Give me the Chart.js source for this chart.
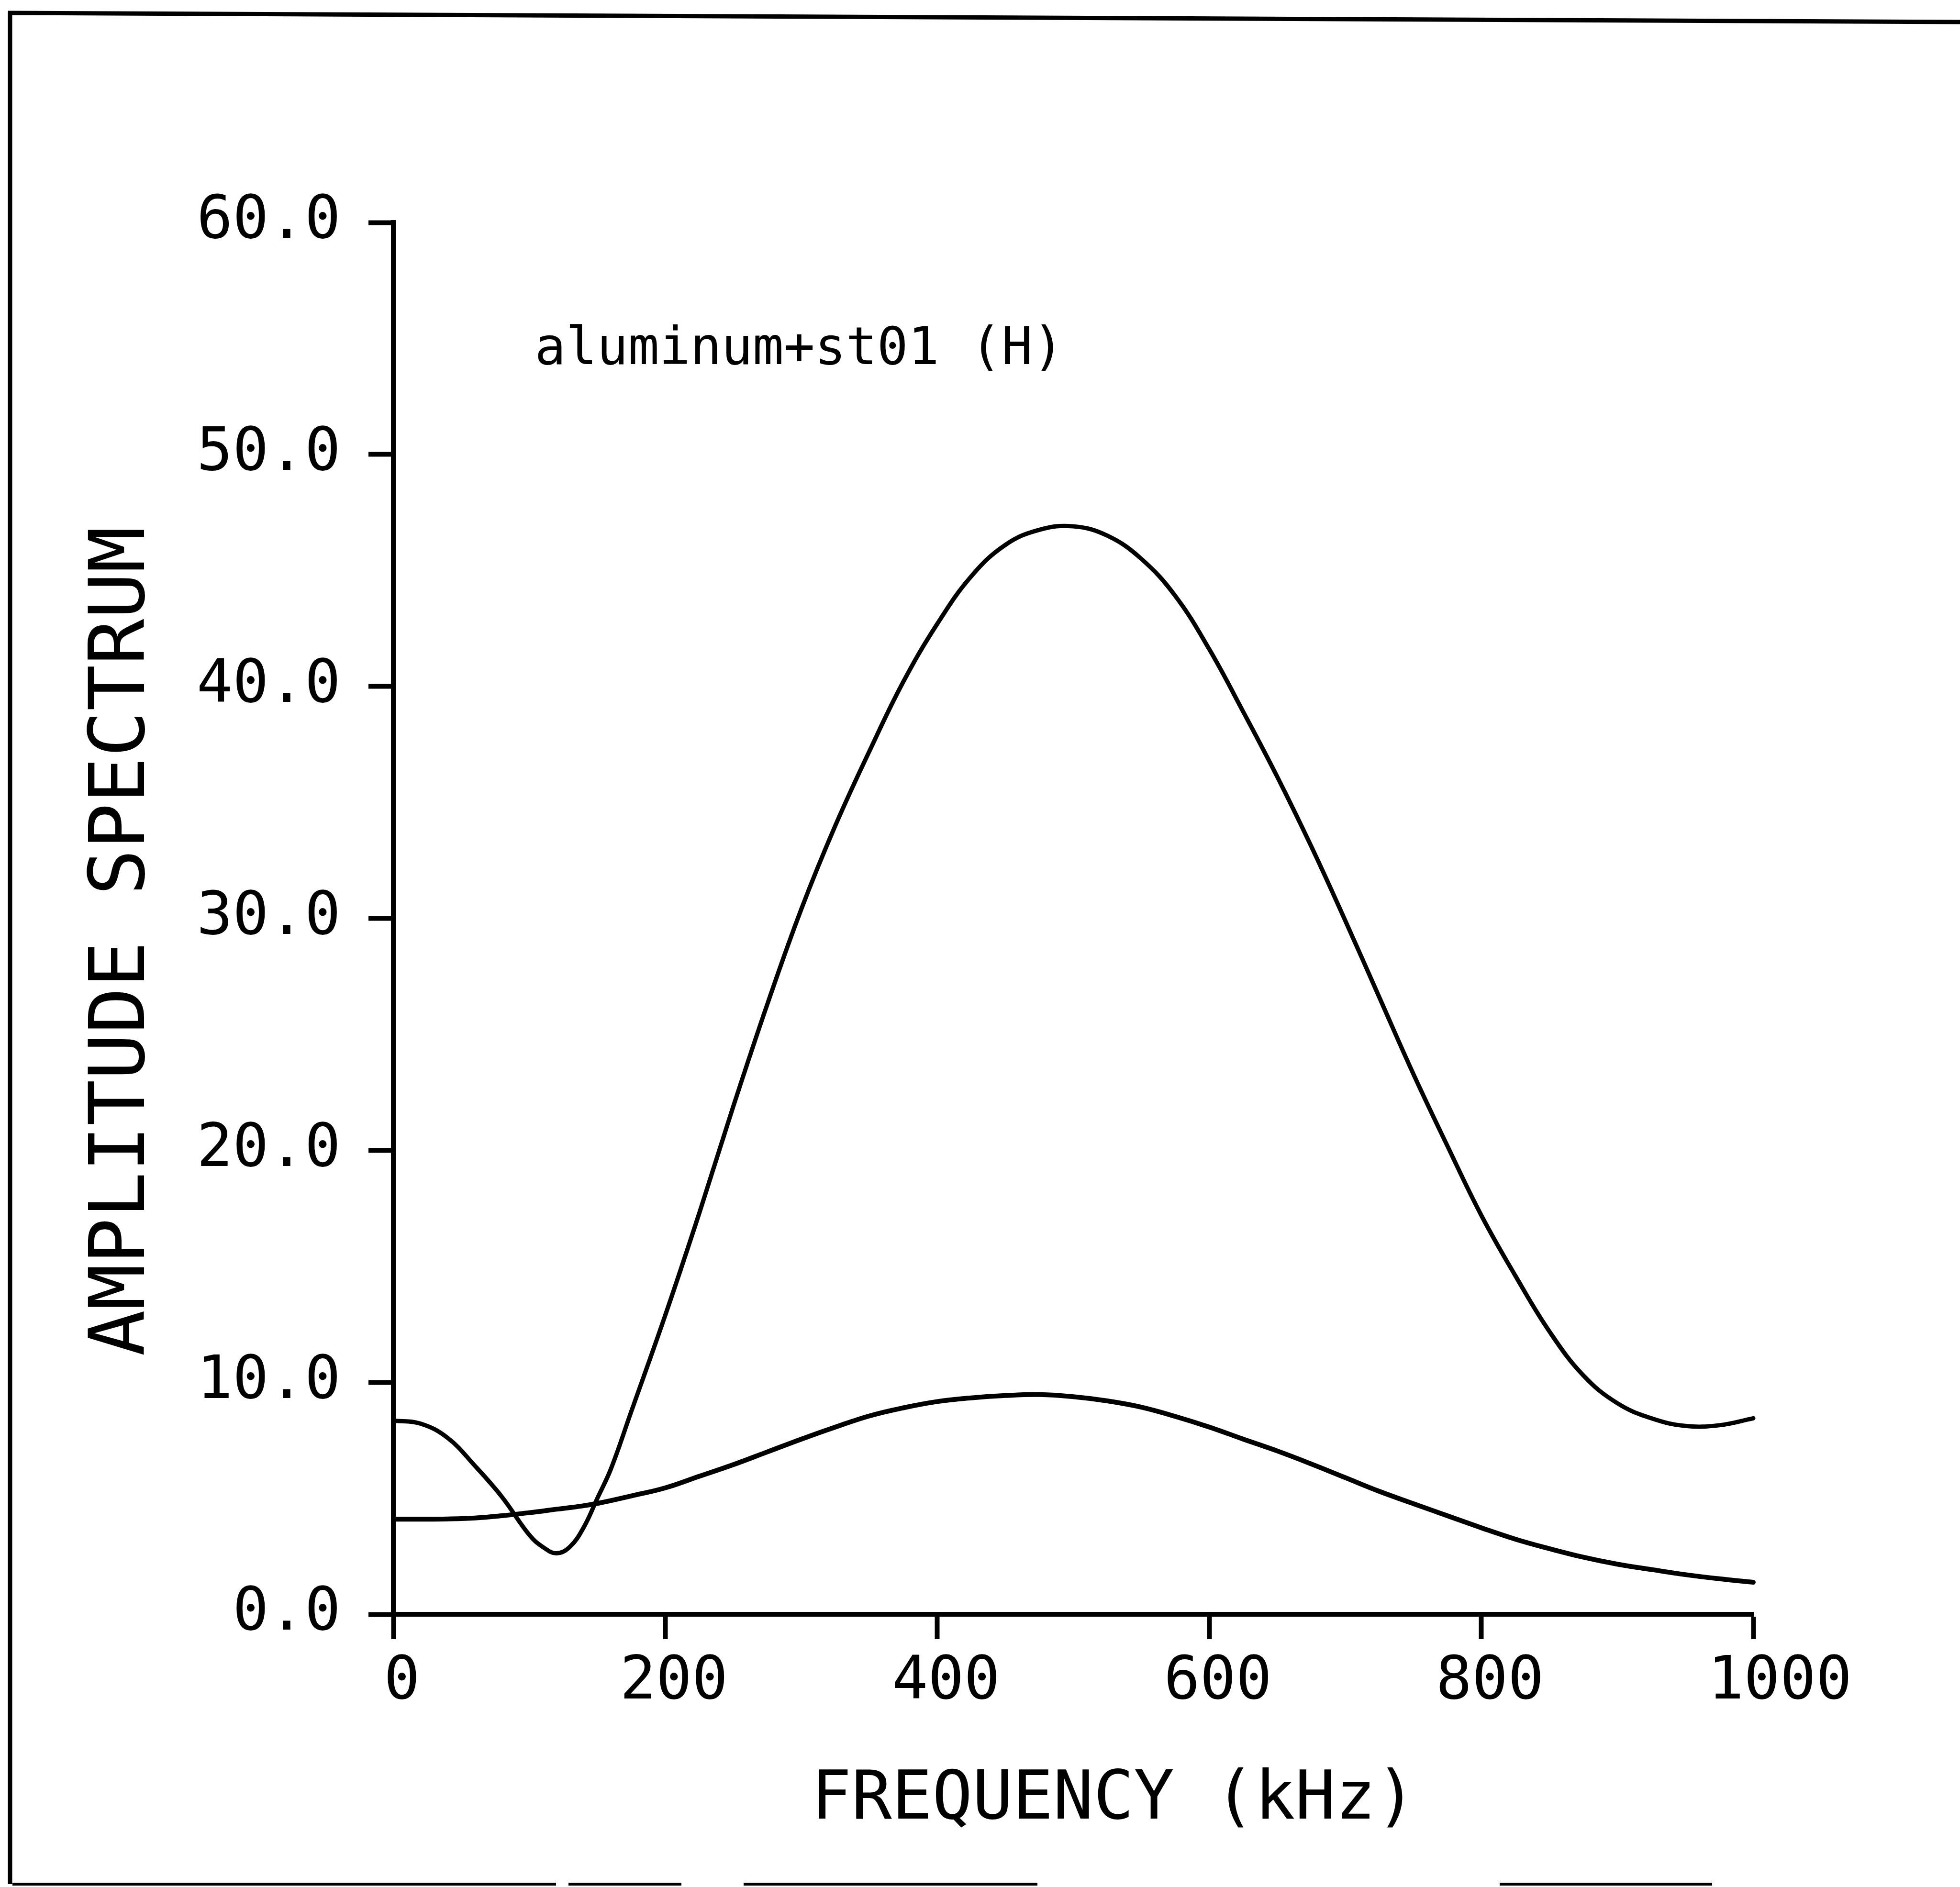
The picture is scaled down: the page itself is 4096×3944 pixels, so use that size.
<!DOCTYPE html>
<html>
<head>
<meta charset="utf-8">
<script src="https://cdn.jsdelivr.net/npm/chart.js@4.4.1/dist/chart.umd.min.js"></script>
<style>
  html, body { margin: 0; padding: 0; background: #fff; }
  canvas { display: block; }
</style>
</head>
<body>
<canvas id="chart" width="4096" height="3944"></canvas>
<script>
const frequencies = [0, 20, 40, 60, 80, 100, 110, 120, 130, 140, 150, 160, 175, 200, 225, 250, 275, 300,
  325, 350, 375, 400, 425, 450, 475, 500, 525, 550, 575, 600, 625, 650, 675, 700, 725, 750, 775,
  800, 825, 850, 875, 900, 925, 950, 975, 1000];

// big peaked curve
const upperCurve = [8.35, 8.22, 7.6, 6.4, 5.05, 3.42, 2.9, 2.63, 2.92, 3.75, 5.0, 6.27, 8.75, 12.9, 17.3, 21.9, 26.3, 30.4,
  34.0, 37.2, 40.2, 42.7, 44.75, 46.1, 46.75, 46.9, 46.5, 45.5, 43.9, 41.6, 38.9, 36.1, 33.1, 29.9, 26.6, 23.3, 20.2,
  17.2, 14.6, 12.2, 10.3, 9.1, 8.45, 8.12, 8.15, 8.45];

// broad low curve
const lowerCurve = [4.1, 4.1, 4.11, 4.15, 4.25, 4.38, 4.45, 4.53, 4.6, 4.68, 4.78, 4.9, 5.1, 5.45, 5.95, 6.45, 7.0, 7.55,
  8.07, 8.55, 8.9, 9.17, 9.33, 9.43, 9.47, 9.38, 9.2, 8.93, 8.53, 8.07, 7.55, 7.04, 6.48, 5.89, 5.3, 4.77, 4.25,
  3.73, 3.24, 2.83, 2.46, 2.16, 1.93, 1.71, 1.53, 1.38];

const xTickValues = [0, 200, 400, 600, 800, 1000];
const yTickValues = [0, 10, 20, 30, 40, 50, 60];

const xTitle = "FREQUENCY (kHz)";
const yTitle = "AMPLITUDE SPECTRUM";
const curveLabel = "aluminum+st01 (H)";
const curveLabelAt = { x: 104, y: 53.9 };

const FONT = "'DejaVu Sans Mono', monospace";

// scanned page border (left, top, broken bottom edge)
const pageFrame = {
  id: "pageFrame",
  beforeDraw(chart) {
    const ctx = chart.ctx;
    ctx.save();
    ctx.strokeStyle = "#000";
    ctx.lineWidth = 9;
    ctx.beginPath();
    ctx.moveTo(21, 24);
    ctx.lineTo(21, 3938);
    ctx.moveTo(17, 27);
    ctx.lineTo(4096, 46);
    ctx.stroke();
    ctx.lineWidth = 6;
    ctx.beginPath();
    [[26, 1162], [1188, 1424], [1554, 2168], [3134, 3578]].forEach(s => {
      ctx.moveTo(s[0], 3938);
      ctx.lineTo(s[1], 3938);
    });
    ctx.stroke();
    ctx.restore();
  }
};

// text label inside the plot
const curveNote = {
  id: "curveNote",
  afterDatasetsDraw(chart) {
    const ctx = chart.ctx;
    const x = chart.scales.x.getPixelForValue(curveLabelAt.x);
    const y = chart.scales.y.getPixelForValue(curveLabelAt.y);
    ctx.save();
    ctx.fillStyle = "#000";
    ctx.font = "108px " + FONT;
    ctx.textAlign = "left";
    ctx.textBaseline = "alphabetic";
    ctx.fillText(curveLabel, x, y);
    ctx.restore();
  }
};

const axisLine = { display: true, color: "#000", width: 10 };
const tickGrid = { drawOnChartArea: false, drawTicks: true, tickLength: 52, tickWidth: 10, tickColor: "#000", color: "#000" };

new Chart(document.getElementById("chart"), {
  type: "line",
  data: {
    labels: frequencies,
    datasets: [
      {
        data: frequencies.map((f, i) => ({ x: f, y: upperCurve[i] })),
        borderColor: "#000",
        borderWidth: 9,
        pointRadius: 0,
        tension: 0.4,
        borderCapStyle: "round",
        borderJoinStyle: "round",
        clip: false
      },
      {
        data: frequencies.map((f, i) => ({ x: f, y: lowerCurve[i] })),
        borderColor: "#000",
        borderWidth: 10,
        pointRadius: 0,
        tension: 0.4,
        borderCapStyle: "round",
        borderJoinStyle: "round",
        clip: false
      }
    ]
  },
  options: {
    responsive: false,
    devicePixelRatio: 1,
    animation: false,
    events: [],
    layout: { padding: { top: 465, right: 432, left: 0, bottom: 0 } },
    plugins: { legend: { display: false }, tooltip: { enabled: false } },
    scales: {
      x: {
        type: "linear",
        min: 0,
        max: 1000,
        afterBuildTicks: axis => { axis.ticks = xTickValues.map(v => ({ value: v })); },
        afterFit: scale => { scale.height = 570; },
        border: axisLine,
        grid: tickGrid,
        ticks: {
          color: "#000",
          font: { family: FONT, size: 125 },
          padding: 17,
          labelOffset: 18,
          maxRotation: 0,
          autoSkip: false,
          callback: v => (v === 1000 ? "\u2007" + v : String(v))
        },
        title: {
          display: true,
          text: "\u2007\u2007" + xTitle,
          color: "#000",
          font: { family: FONT, size: 140 },
          padding: { top: 0, bottom: 95 }
        }
      },
      y: {
        type: "linear",
        min: 0,
        max: 60,
        afterBuildTicks: axis => { axis.ticks = yTickValues.map(v => ({ value: v })); },
        afterFit: scale => { scale.width = 822; },
        border: axisLine,
        grid: tickGrid,
        ticks: {
          color: "#000",
          font: { family: FONT, size: 125 },
          padding: 58,
          autoSkip: false,
          callback: v => v.toFixed(1)
        },
        title: {
          display: true,
          text: yTitle + "\u2007",
          color: "#000",
          font: { family: FONT, size: 160 },
          padding: { top: 163, bottom: 0 }
        }
      }
    }
  },
  plugins: [pageFrame, curveNote]
});
</script>
</body>
</html>
